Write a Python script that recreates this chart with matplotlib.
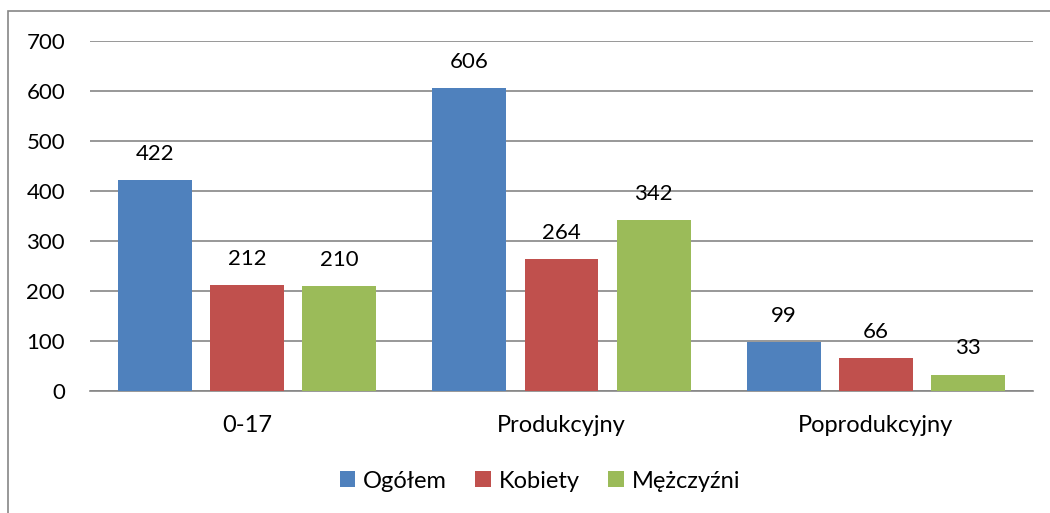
import matplotlib
matplotlib.use("Agg")
import matplotlib.pyplot as plt
import numpy as np
from matplotlib.patches import Rectangle

categories = ["0-17", "Produkcyjny", "Poprodukcyjny"]
series_names = ["Ogółem", "Kobiety", "Mężczyźni"]
ogolem = [422, 606, 99]
kobiety = [212, 264, 66]
mezczyzni = [210, 342, 33]
yticks = [0, 100, 200, 300, 400, 500, 600, 700]

colors = ["#4F81BD", "#C0504D", "#9BBB59"]
plt.rcParams['font.family'] = ['Lato', 'DejaVu Sans']

fig = plt.figure(figsize=(10.5, 5.13), dpi=100)
W, H = 1050, 513
ax = fig.add_axes([90 / W, 1 - 391 / H, (1033 - 90) / W, (391 - 41) / H])

x = np.arange(len(categories))
width = 0.235
offsets = [-0.293, 0.0, 0.293]
for vals, name, c, off in zip([ogolem, kobiety, mezczyzni], series_names, colors, offsets):
    bars = ax.bar(x + off, vals, width, color=c, label=name, zorder=3)
    for b, v in zip(bars, vals):
        ax.annotate(str(v), (b.get_x() + b.get_width() / 2, v), xytext=(0, 16),
                    textcoords="offset pixels",
                    ha="center", va="bottom", fontsize=16, color="black")

ax.set_xlim(-0.5, 2.5)
ax.set_ylim(0, 700)
ax.set_yticks(yticks)
ax.set_xticks(x)
ax.set_xticklabels(categories, fontsize=17)
ax.yaxis.grid(True, color="#868686", linewidth=1.2, zorder=0)
for s in ["left", "right", "top"]:
    ax.spines[s].set_visible(False)
ax.spines["bottom"].set_color("#868686")
ax.spines["bottom"].set_linewidth(1.2)
ax.tick_params(axis="both", length=0, colors="black")
ax.tick_params(axis="y", pad=18, labelsize=16)
ax.tick_params(axis="x", pad=17)

leg = fig.legend(loc="center", bbox_to_anchor=(540 / W, 1 - 481 / H), ncol=3, frameon=False,
                 fontsize=17, handlelength=0.65, handleheight=0.65, handletextpad=0.35,
                 columnspacing=1.2)

fig.patches.append(Rectangle((8 / W, -0.1), 1.2, (1 - 11 / H) + 0.1, transform=fig.transFigure,
                             fill=False, edgecolor="#868686", linewidth=1.2))

fig.savefig("out.png", dpi=100)
